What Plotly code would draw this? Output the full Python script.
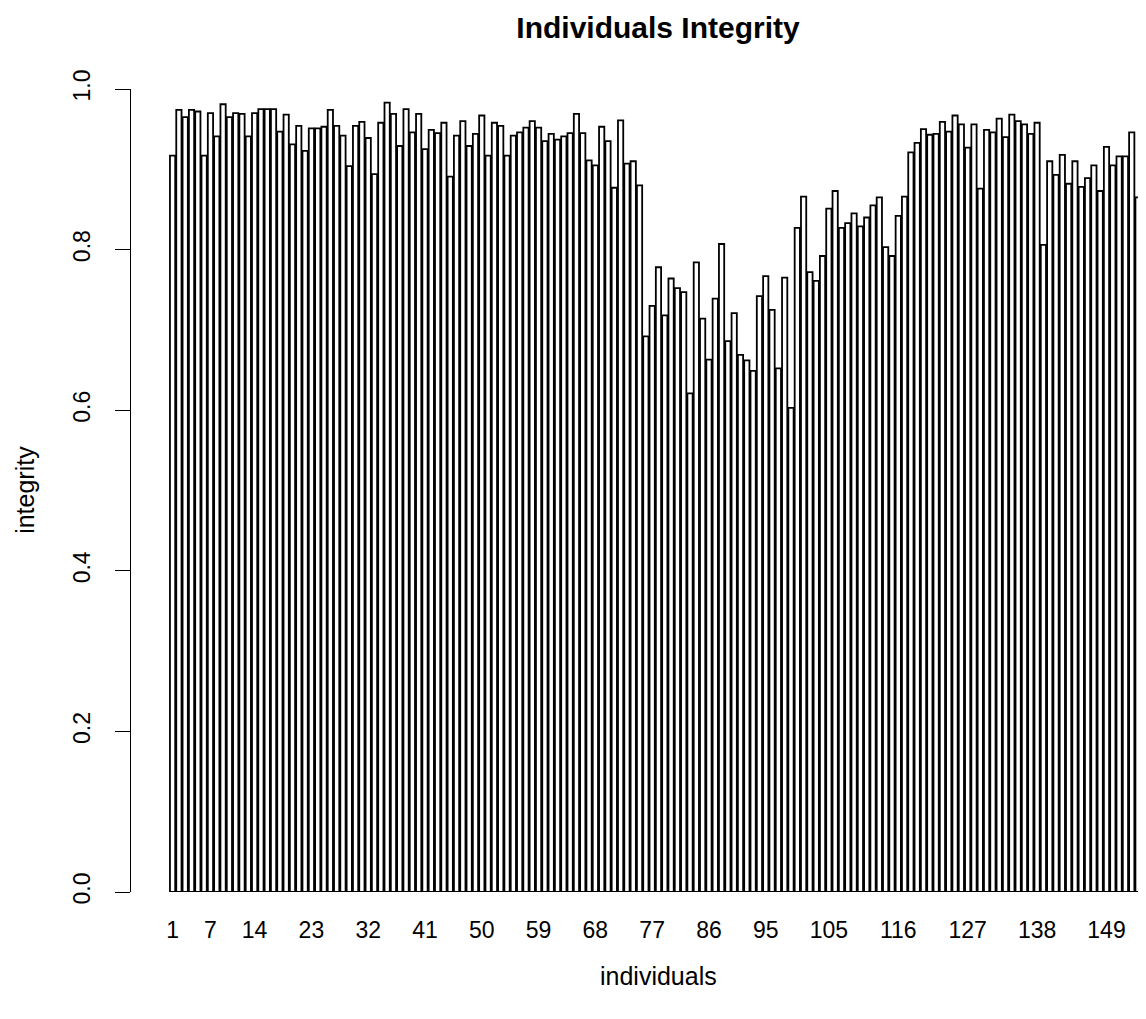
import plotly.graph_objects as go

integrity = [
    0.917, 0.974, 0.965, 0.974, 0.972, 0.917, 0.970, 0.941, 0.981, 0.965,
    0.970, 0.969, 0.941, 0.970, 0.975, 0.975, 0.975, 0.947, 0.968, 0.931,
    0.954, 0.923, 0.951, 0.951, 0.953, 0.974, 0.954, 0.942, 0.904, 0.954,
    0.959, 0.939, 0.894, 0.958, 0.983, 0.969, 0.929, 0.975, 0.946, 0.969,
    0.925, 0.949, 0.945, 0.958, 0.891, 0.942, 0.960, 0.929, 0.944, 0.967,
    0.917, 0.958, 0.954, 0.917, 0.942, 0.946, 0.952, 0.960, 0.952, 0.935,
    0.944, 0.937, 0.941, 0.945, 0.969, 0.945, 0.911, 0.905, 0.953, 0.935,
    0.877, 0.961, 0.907, 0.910, 0.880, 0.692, 0.730, 0.778, 0.718, 0.764,
    0.752, 0.747, 0.621, 0.784, 0.714, 0.663, 0.739, 0.807, 0.686, 0.721,
    0.669, 0.662, 0.649, 0.742, 0.767, 0.725, 0.652, 0.765, 0.603, 0.827,
    0.866, 0.772, 0.761, 0.792, 0.851, 0.873, 0.827, 0.833, 0.845, 0.829,
    0.840, 0.855, 0.865, 0.803, 0.792, 0.842, 0.866, 0.921, 0.933, 0.950,
    0.943, 0.944, 0.959, 0.947, 0.967, 0.956, 0.927, 0.956, 0.876, 0.949,
    0.946, 0.963, 0.940, 0.968, 0.960, 0.956, 0.944, 0.958, 0.806, 0.910,
    0.893, 0.918, 0.882, 0.910, 0.878, 0.889, 0.905, 0.873, 0.928, 0.905,
    0.916, 0.916, 0.946, 0.865, 0.902,
]
individuals = list(range(1, len(integrity) + 1))

x_tick_vals = [1, 7, 14, 23, 32, 41, 50, 59, 68, 77, 86, 95, 105, 116, 127, 138, 149]
x_tick_text = [str(v) for v in x_tick_vals]
y_tick_vals = [0.0, 0.2, 0.4, 0.6, 0.8, 1.0]
y_tick_text = ["0.0", "0.2", "0.4", "0.6", "0.8", "1.0"]

FONT = "Liberation Sans, Arial, Helvetica, sans-serif"

# page body has an 8px margin; work in page coordinates and convert
OFF = 8
PAGE_W, PAGE_H = 1146, 1019
W, H = PAGE_W - OFF, PAGE_H - 2 * OFF
plot_left, plot_right, plot_top, plot_bottom = 131 - OFF, PAGE_W - OFF, 89 - OFF, 892.3 - OFF
L, R, T, B = plot_left, W - plot_right, plot_top, H - plot_bottom

fig = go.Figure()
fig.add_trace(go.Bar(
    x=individuals,
    y=integrity,
    width=1 / 1.2,
    marker=dict(color="white", line=dict(color="black", width=1.8)),
    showlegend=False,
    hoverinfo="x+y",
))

fig.update_layout(
    width=W, height=H,
    margin=dict(l=L, r=R, t=T, b=B, pad=0),
    paper_bgcolor="white",
    plot_bgcolor="white",
    font=dict(family=FONT, color="black", size=23),
    title=dict(
        text="<b>Individuals Integrity</b>",
        x=(658 - OFF) / W, xref="container", xanchor="center",
        y=1 - (27 - OFF) / H, yref="container", yanchor="middle",
        font=dict(family=FONT, size=30, color="black"),
    ),
    xaxis=dict(
        range=[-5.59, 155.26],
        tickmode="array", tickvals=x_tick_vals, ticktext=x_tick_text,
        showline=False, showgrid=False, zeroline=False,
        ticks="", ticklabelstandoff=22,
        tickfont=dict(size=23, family=FONT),
    ),
    yaxis=dict(
        range=[0, 1],
        tickmode="array", tickvals=y_tick_vals, ticktext=y_tick_text,
        showline=True, linecolor="black", linewidth=1,
        ticks="outside", ticklen=15, tickcolor="black", tickwidth=1,
        showgrid=False, zeroline=False,
        tickangle=-90, ticklabelstandoff=16,
        tickfont=dict(size=23, family=FONT),
    ),
    annotations=[
        dict(text="individuals", xref="paper", yref="paper",
             x=(658 - OFF - L) / (plot_right - plot_left), y=0,
             yshift=-((976 - OFF) - plot_bottom),
             xanchor="center", yanchor="middle", showarrow=False,
             font=dict(size=25, family=FONT)),
        dict(text="integrity", xref="paper", yref="paper",
             x=0, xshift=-(L - (25 - OFF)),
             y=(plot_bottom - (490 - OFF)) / (plot_bottom - plot_top),
             xanchor="center", yanchor="middle", textangle=-90, showarrow=False,
             font=dict(size=25, family=FONT)),
    ],
)

fig.write_html("out.html")
